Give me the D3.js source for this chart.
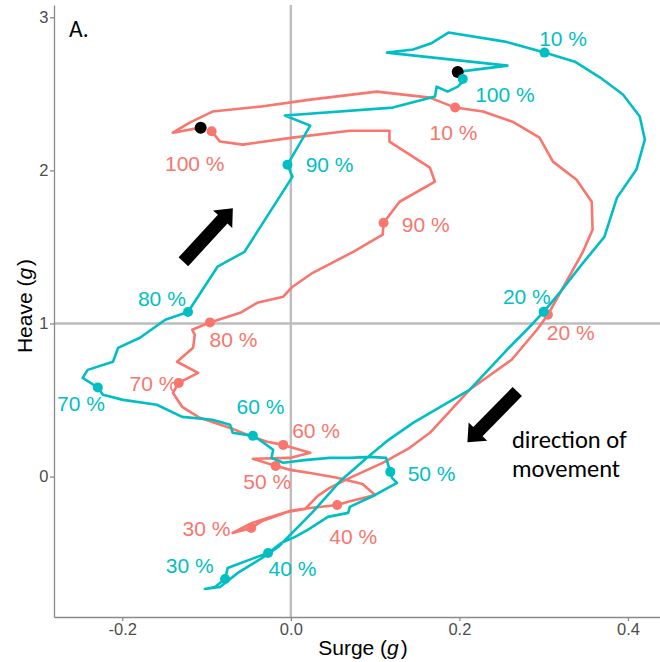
<!DOCTYPE html>
<html>
<head>
<meta charset="utf-8">
<script src="https://cdn.jsdelivr.net/npm/d3@7"></script>
<style>
  html, body { margin: 0; padding: 0; background: #fff; }
  svg { display: block; }
</style>
</head>
<body>
<svg id="chart" width="660" height="662"></svg>
<script>
// ---------- DATA ----------
const pctLabels = ["10 %", "20 %", "30 %", "40 %", "50 %", "60 %", "70 %", "80 %", "90 %", "100 %"];

// Red (salmon) trajectory, Surge (g) and Heave (g)
const surgeRed = [-0.107, -0.140, -0.120, -0.093, -0.037, 0.023, 0.102, 0.165, 0.195, 0.228,
  0.263, 0.295, 0.311, 0.339, 0.357, 0.358, 0.346, 0.305, 0.292, 0.262,
  0.212, 0.165, 0.141, 0.109, 0.070, 0.046, 0.032, 0.017, -0.004, -0.034,
  -0.047, -0.069, -0.046, -0.023, -0.001, 0.023, 0.055, 0.068, 0.100, 0.085,
  0.055, 0.023, -0.001, -0.018, -0.045, -0.001, 0.023, -0.009, -0.028, -0.045,
  -0.072, -0.108, -0.129, -0.140, -0.133, -0.110, -0.135, -0.116, -0.114, -0.117,
  -0.096, -0.060, -0.040, -0.009, 0.002, 0.026, 0.074, 0.109, 0.110, 0.129,
  0.171, 0.165, 0.117, 0.117, 0.070, 0.002, -0.057, -0.084, -0.094];
const heaveRed = [2.279, 2.246, 2.312, 2.384, 2.416, 2.462, 2.514, 2.475, 2.410, 2.384,
  2.318, 2.214, 2.057, 1.939, 1.795, 1.612, 1.462, 1.057, 0.959, 0.763,
  0.567, 0.286, 0.188, 0.090, -0.008, -0.074, -0.126, -0.211, -0.231, -0.290,
  -0.335, -0.368, -0.303, -0.263, -0.224, -0.205, -0.185, -0.165, -0.120, -0.048,
  -0.008, 0.024, 0.044, 0.070, 0.116, 0.122, 0.155, 0.207, 0.227, 0.259,
  0.318, 0.384, 0.456, 0.547, 0.612, 0.678, 0.750, 0.841, 0.926, 0.959,
  1.007, 1.070, 1.135, 1.175, 1.240, 1.331, 1.468, 1.580, 1.658, 1.795,
  1.926, 2.018, 2.188, 2.259, 2.259, 2.214, 2.168, 2.188, 2.255];
const markIdxRed = [8, 17, 30, 36, 43, 47, 54, 60, 68, 78];
const labelSurgeRed = [0.193, 0.332, -0.100, 0.074, -0.028, 0.030, -0.163, -0.068, 0.160, -0.114];
const labelHeaveRed = [2.246, 0.939, -0.342, -0.394, -0.035, 0.299, 0.606, 0.894, 1.645, 2.044];

// Cyan (teal) trajectory
const surgeCyan = [0.198, 0.257, 0.114, 0.145, 0.166, 0.187, 0.254, 0.301, 0.337, 0.367,
  0.394, 0.414, 0.420, 0.410, 0.387, 0.372, 0.345, 0.319, 0.300, 0.280,
  0.260, 0.212, 0.145, 0.116, 0.090, 0.060, 0.025, -0.015, -0.034, -0.063,
  -0.084, -0.102, -0.090, -0.078, -0.075, -0.043, -0.027, -0.011, 0.005, 0.020,
  0.044, 0.068, 0.070, 0.100, 0.126, 0.120, 0.118, 0.113, 0.094, 0.070,
  0.046, 0.019, -0.009, -0.023, -0.021, -0.037, -0.045, -0.069, -0.072, -0.093,
  -0.129, -0.159, -0.199, -0.223, -0.229, -0.247, -0.241, -0.211, -0.205, -0.179,
  -0.149, -0.122, -0.087, -0.055, 0.002, -0.004, 0.023, -0.007, 0.121, 0.171,
  0.173, 0.186, 0.198, 0.203, 0.204];
const heaveCyan = [2.643, 2.684, 2.769, 2.789, 2.828, 2.900, 2.841, 2.769, 2.710, 2.606,
  2.495, 2.352, 2.201, 2.005, 1.822, 1.566, 1.384, 1.201, 1.076, 0.959,
  0.848, 0.567, 0.351, 0.240, 0.122, -0.022, -0.237, -0.460, -0.531, -0.629,
  -0.721, -0.734, -0.721, -0.669, -0.597, -0.531, -0.499, -0.433, -0.394, -0.348,
  -0.263, -0.237, -0.198, -0.120, -0.041, -0.008, 0.031, 0.122, 0.129, 0.122,
  0.122, 0.109, 0.090, 0.122, 0.175, 0.240, 0.266, 0.286, 0.338, 0.371,
  0.390, 0.469, 0.501, 0.534, 0.582, 0.645, 0.697, 0.750, 0.841, 0.907,
  1.024, 1.075, 1.371, 1.468, 1.959, 2.037, 2.292, 2.358, 2.410, 2.482,
  2.547, 2.514, 2.547, 2.573, 2.597];
const markIdxCyan = [7, 18, 33, 36, 46, 56, 64, 71, 75, 84];
const labelSurgeCyan = [0.323, 0.280, -0.120, 0.002, 0.167, -0.036, -0.249, -0.153, 0.046, 0.254];
const labelHeaveCyan = [2.861, 1.174, -0.584, -0.603, 0.018, 0.456, 0.475, 1.161, 2.037, 2.495];

const xTicks = [-0.2, 0.0, 0.2, 0.4];
const yTicks = [0, 1, 2, 3];

// direction arrows (tail -> tip) in data units
const arrowTailSurge = [-0.1275, 0.2687];
const arrowTailHeave = [1.403, 0.5556];
const arrowTipSurge = [-0.0688, 0.2095];
const arrowTipHeave = [1.753, 0.2235];

// ---------- STYLE ----------
const RED = "#F8766D", CYAN = "#00BFC4";
const SANS = "'Liberation Sans', Arial, sans-serif";
const CAL = "Carlito, Calibri, Lato, sans-serif";
const svg = d3.select("#chart");
const x = d3.scaleLinear().domain([-0.281, 0.438]).range([54, 660]);
const y = d3.scaleLinear().domain([-0.917, 3.08]).range([617, 5]);

// reference lines
svg.append("line").attr("x1", x(0)).attr("x2", x(0)).attr("y1", y.range()[1]).attr("y2", y.range()[0])
  .attr("stroke", "#bdbdbd").attr("stroke-width", 2.4);
svg.append("line").attr("x1", x.range()[0]).attr("x2", x.range()[1]).attr("y1", y(1)).attr("y2", y(1))
  .attr("stroke", "#bdbdbd").attr("stroke-width", 2.4);

// axes
const fmtX = d => d.toFixed(1);
const gx = svg.append("g").attr("transform", `translate(0,${y.range()[0]})`)
  .call(d3.axisBottom(x).tickValues(xTicks).tickFormat(fmtX).tickSize(4).tickSizeOuter(0).tickPadding(2.5));
const gy = svg.append("g").attr("transform", `translate(${x.range()[0]},0)`)
  .call(d3.axisLeft(y).tickValues(yTicks).tickFormat(d3.format("d")).tickSize(4).tickSizeOuter(0).tickPadding(1.5));
[gx, gy].forEach(g => {
  g.select(".domain").attr("stroke", "#8a8a8a").attr("stroke-width", 1.3);
  g.selectAll(".tick line").attr("stroke", "#8a8a8a").attr("stroke-width", 1.3);
  g.selectAll(".tick text").attr("fill", "#4d4d4d").attr("font-size", "16.5px").attr("font-family", SANS);
});

// axis titles
const xt = svg.append("text").attr("x", 363).attr("y", 655).attr("text-anchor", "middle")
  .attr("font-family", SANS).attr("font-size", "21px").attr("fill", "#000");
xt.append("tspan").text("Surge (");
xt.append("tspan").attr("font-style", "italic").text("g");
xt.append("tspan").attr("dx", 2).text(")");
const yt = svg.append("text").attr("transform", "translate(32,306) rotate(-90)").attr("text-anchor", "middle")
  .attr("font-family", SANS).attr("font-size", "21px").attr("fill", "#000");
yt.append("tspan").text("Heave (");
yt.append("tspan").attr("font-style", "italic").text("g");
yt.append("tspan").attr("dx", 2).text(")");

// trajectories
const line = d3.line().x(d => x(d[0])).y(d => y(d[1]));
const series = [
  { sx: surgeRed, hy: heaveRed, idx: markIdxRed, lx: labelSurgeRed, ly: labelHeaveRed, color: RED },
  { sx: surgeCyan, hy: heaveCyan, idx: markIdxCyan, lx: labelSurgeCyan, ly: labelHeaveCyan, color: CYAN }
];
series.forEach(s => {
  const pts = s.sx.map((v, i) => [v, s.hy[i]]);
  svg.append("path").attr("d", line(pts)).attr("fill", "none").attr("stroke", s.color)
    .attr("stroke-width", 2.6).attr("stroke-linejoin", "round").attr("stroke-linecap", "round");
});
// start points (black)
series.forEach(s => {
  svg.append("circle").attr("cx", x(s.sx[0])).attr("cy", y(s.hy[0])).attr("r", 6).attr("fill", "#000");
});
// percentage markers and labels
series.forEach(s => {
  s.idx.forEach((k, i) => {
    svg.append("circle").attr("cx", x(s.sx[k])).attr("cy", y(s.hy[k])).attr("r", 5).attr("fill", s.color);
    svg.append("text").attr("x", x(s.lx[i])).attr("y", y(s.ly[i])).attr("dy", "0.35em")
      .attr("text-anchor", "middle").attr("font-family", SANS)
      .attr("font-size", "21px").attr("fill", s.color).text(pctLabels[i]);
  });
});

// arrows
function blockArrow(x0, y0, x1, y1, shaftW, headW, headL) {
  const dx = x1 - x0, dy = y1 - y0, L = Math.hypot(dx, dy);
  const ux = dx / L, uy = dy / L, nx = -uy, ny = ux;
  const bx = x1 - ux * headL, by = y1 - uy * headL;
  const p = [
    [x0 + nx * shaftW / 2, y0 + ny * shaftW / 2],
    [bx + nx * shaftW / 2, by + ny * shaftW / 2],
    [bx + nx * headW / 2, by + ny * headW / 2],
    [x1, y1],
    [bx - nx * headW / 2, by - ny * headW / 2],
    [bx - nx * shaftW / 2, by - ny * shaftW / 2],
    [x0 - nx * shaftW / 2, y0 - ny * shaftW / 2]
  ];
  return "M" + p.map(q => q.join(",")).join("L") + "Z";
}
arrowTailSurge.forEach((_, i) => {
  svg.append("path").attr("d", blockArrow(x(arrowTailSurge[i]), y(arrowTailHeave[i]),
    x(arrowTipSurge[i]), y(arrowTipHeave[i]), 13, 26, 15)).attr("fill", "#000");
});

// annotations
svg.append("text").attr("x", 69).attr("y", 37).attr("font-family", CAL)
  .attr("font-size", "23.5px").attr("fill", "#000").text("A.");
const ann = svg.append("text").attr("font-family", CAL)
  .attr("font-size", "24.5px").attr("fill", "#000");
ann.append("tspan").attr("x", 512).attr("y", 448).text("direction of");
ann.append("tspan").attr("x", 512).attr("y", 477).text("movement");
</script>
</body>
</html>
